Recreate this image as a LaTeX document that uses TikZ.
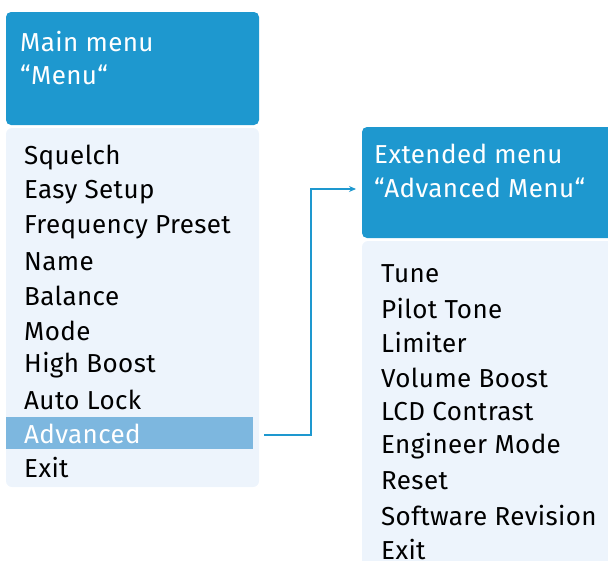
\documentclass[tikz,border=0pt]{standalone}
\usepackage{fontspec}
\setmainfont{Fira Sans}[LetterSpace=1.5]
\usetikzlibrary{arrows.meta}
\definecolor{hdr}{HTML}{1E98CF}
\definecolor{lst}{HTML}{EDF4FC}
\definecolor{sel}{HTML}{7DB7DF}
\tikzset{
  hdrbox/.style={fill=hdr, rounded corners=5pt},
  lstbox/.style={fill=lst, rounded corners=6pt},
  item/.style={anchor=west, inner sep=0pt, font=\fontsize{26}{30}\selectfont, text=black},
  htext/.style={anchor=west, inner sep=0pt, font=\fontsize{26}{30}\selectfont, text=white},
  conn/.style={draw=hdr, line width=1.5pt, -{Stealth[length=7pt,width=6pt]}}
}
\begin{document}
\begin{tikzpicture}[x=1pt,y=-1pt]
\useasboundingbox (0,0) rectangle (608,560);
% main menu
\fill[hdrbox] (6,12) rectangle (259,125);
\node[htext] (mh1) at (20,42) {Main menu};
\node[htext] (mh2) at (20,75) {“Menu“};
\fill[lstbox] (6,128) rectangle (259,487);
\fill[sel] (6,417) rectangle (253,449);
\foreach \t [count=\i] in {Squelch,Easy Setup,Frequency Preset,Name,Balance,Mode,High Boost,Auto Lock}
  \node[item] (m\i) at (24,{158+(\i-1)*34.6}) {\t};
\node[item, text=white] (madv) at (24,434) {Advanced};
\node[item] (mexit) at (24,468) {Exit};
% extended menu
\begin{scope}
\clip (0,0) rectangle (608,560);
\fill[hdrbox] (362,127) rectangle (620,238);
\fill[lstbox] (362,241) rectangle (620,580);
\end{scope}
\node[htext] (eh1) at (374,154) {Extended menu};
\node[htext] (eh2) at (374,188) {“Advanced Menu“};
\foreach \t [count=\i] in {Tune,Pilot Tone,Limiter,Volume Boost,LCD Contrast,Engineer Mode,Reset,Software Revision,Exit}
  \node[item] (e\i) at (381,{274+(\i-1)*34.5}) {\t};
% connector
\coordinate (cstart) at (264,435);
\coordinate (cend) at (356,189);
\draw[conn] (cstart) -- (311,435) |- (cend);
\end{tikzpicture}
\end{document}
